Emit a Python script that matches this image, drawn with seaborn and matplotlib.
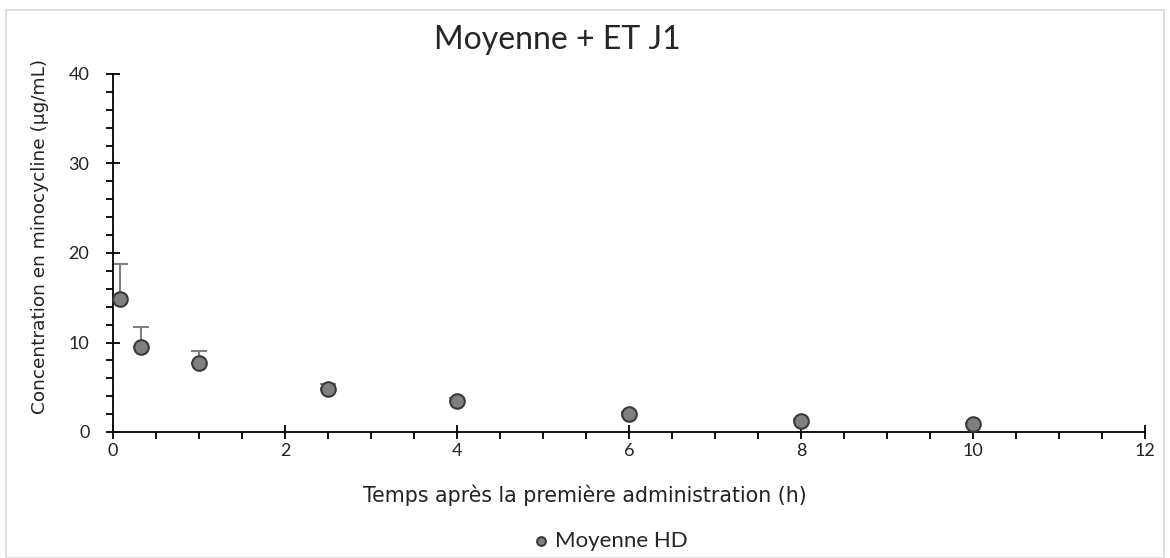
import numpy as np
import pandas as pd
import matplotlib
matplotlib.use("Agg")
import matplotlib.pyplot as plt
import seaborn as sns
from matplotlib.patches import Rectangle
from matplotlib.ticker import MultipleLocator

# Mean concentration + SD, day 1
temps_h = [0.083, 0.33, 1, 2.5, 4, 6, 8, 10]
moyenne = [14.9, 9.5, 7.75, 4.8, 3.5, 2.0, 1.26, 0.86]
ecart_type = [3.9, 2.2, 1.3, 0.6, 0.35, 0.2, 0.15, 0.1]

df = pd.DataFrame({"temps": temps_h, "moyenne": moyenne, "et": ecart_type})

sns.set_style("white")
plt.rcParams['font.family'] = ['Lato', 'DejaVu Sans']

fig = plt.figure(figsize=(11.7, 5.58), dpi=100)
ax = fig.add_axes([113 / 1170, 1 - 432 / 558, (1145 - 113) / 1170, (432 - 74) / 558])

# light frame around the whole chart, like the Excel chart area
fig.patches.append(Rectangle((6 / 1170, 0), 1158 / 1170, 1 - 10 / 558,
                             transform=fig.transFigure, fill=False,
                             edgecolor="#d9d9d9", linewidth=1.2))

# upper error bars only
ax.errorbar(df["temps"], df["moyenne"], yerr=[np.zeros(len(df)), df["et"]],
            fmt="none", ecolor="#7f7f7f", elinewidth=1.5, capsize=6, capthick=1.5, zorder=2)
sns.scatterplot(data=df, x="temps", y="moyenne", ax=ax, s=110, color="#7f7f7f",
                edgecolor="#3a3a3a", linewidth=1.5, zorder=3, label="Moyenne HD", clip_on=False)

ax.set_xlim(0, 12)
ax.set_ylim(0, 40)
ax.xaxis.set_major_locator(MultipleLocator(2))
ax.xaxis.set_minor_locator(MultipleLocator(0.5))
ax.yaxis.set_major_locator(MultipleLocator(10))
ax.yaxis.set_minor_locator(MultipleLocator(2))

for s in ["top", "right"]:
    ax.spines[s].set_visible(False)
for s in ["left", "bottom"]:
    ax.spines[s].set_color("black")
    ax.spines[s].set_linewidth(1.3)

ax.tick_params(which="major", direction="inout", length=10, width=1.3, color="black",
               labelsize=13, labelcolor="#222222", left=True, bottom=True)
ax.tick_params(which="minor", direction="out", length=5, width=1.3, color="black",
               left=True, bottom=True)
ax.tick_params(axis="x", which="major", pad=3)
ax.tick_params(axis="y", which="major", pad=12)

ax.set_xlabel("Temps après la première administration (h)", fontsize=14.8, color="#222222",
              fontfamily="DejaVu Sans")
ax.xaxis.set_label_coords((585 - 113) / 1032, -(495 - 432) / 358)
ax.set_ylabel("Concentration en minocycline (µg/mL)", fontsize=13.3, color="#222222",
              fontfamily="DejaVu Sans")
ax.yaxis.set_label_coords(-(113 - 40) / 1032, (432 - 236) / 358)
ax.xaxis.label.set_va("center")
ax.yaxis.label.set_va("center")

fig.suptitle("Moyenne + ET J1", x=557 / 1170, y=1 - 40 / 558, va="center", fontsize=23)

ax.legend(loc="center", bbox_to_anchor=((611 - 113) / 1032, -(541 - 432) / 358), frameon=False,
          fontsize=16, handlelength=0.6, handletextpad=0.3, markerscale=0.6, borderpad=0)

fig.savefig("out.png", dpi=100)
